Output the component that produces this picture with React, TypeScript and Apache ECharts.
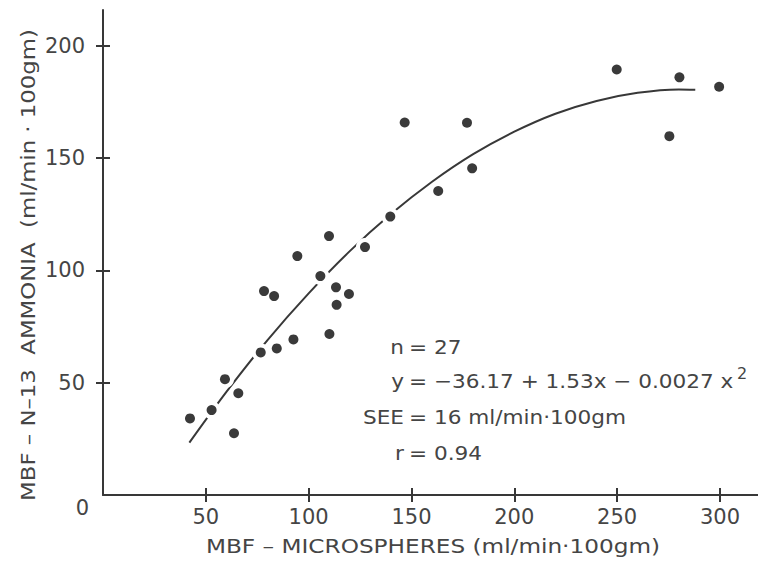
import React, { useEffect, useRef } from 'react';
import * as echarts from 'echarts';

// Data points
const microspheres = [42.3, 52.8, 59.3, 63.7, 65.8, 76.7, 78.3, 83.2, 84.5, 92.6, 94.5, 105.7, 109.9, 110.1, 113.3, 113.6, 119.6, 127.4, 139.7, 146.7, 163, 177, 179.5, 249.8, 275.4, 280.3, 299.6];
const ammonia = [34.1, 37.8, 51.6, 27.5, 45.3, 63.5, 90.8, 88.6, 65.3, 69.3, 106.4, 97.5, 115.3, 71.7, 92.5, 84.7, 89.5, 110.4, 124, 165.9, 135.4, 165.8, 145.5, 189.5, 159.8, 186, 181.8];

// Regression curve
const curveX = [42, 60, 80, 100, 120, 140, 160, 180, 200, 220, 240, 260, 280, 288];
const curveY = [23.3, 45.9, 69.0, 89.8, 108.6, 125.1, 139.5, 151.8, 161.8, 169.8, 175.5, 179.1, 180.6, 180.5];

const xTicks = [50, 100, 150, 200, 250, 300];
const yTicks = [50, 100, 150, 200];

const statLabels = ['n', 'y', 'SEE', 'r'];
const statValues = ['= 27', '= \u221236.17 + 1.53x \u2212 0.0027 x', '= 16 ml/min\u00b7100gm', '= 0.94'];
const superscript = '2';

const xTitle = 'MBF \u2013 MICROSPHERES (ml/min\u00b7100gm)';
const yTitle = 'MBF \u2013 N\u201313  AMMONIA  (ml/min \u00b7 100gm)';

const FONT = '"DejaVu Sans", "Liberation Sans", sans-serif';
const TEXT = '#454545';
const AXIS = '#383838';

export default function App() {
  const ref = useRef<HTMLDivElement>(null);

  useEffect(() => {
    if (!ref.current) return;
    const chart = echarts.init(ref.current, undefined, { renderer: 'svg' });

    const points = microspheres.map((x, i) => [x, ammonia[i]]);
    const curve = curveX.map((x, i) => [x, curveY[i]]);

    const txt = (text: string, x: number, y: number, align: string, size: number, extra: any = {}) => ({
      type: 'text',
      x,
      y,
      z: 10,
      ...extra,
      style: {
        text,
        fill: TEXT,
        fontSize: size,
        fontFamily: FONT,
        align,
        textAlign: align,
        verticalAlign: 'middle',
        textVerticalAlign: 'middle',
      },
    });

    const rowY = [347, 381, 417, 453];
    const graphics: any[] = [];
    statLabels.forEach((l, i) => {
      graphics.push(txt(l, 404, rowY[i], 'right', 20, { scaleX: 1.08 }));
      graphics.push(txt(statValues[i], 409, rowY[i], 'left', 20, { scaleX: 1.08 }));
    });
    graphics.push(txt(superscript, 737, 373, 'left', 16));
    graphics.push(txt('0', 89, 508, 'right', 21));
    graphics.push(txt(xTitle, 433, 546, 'center', 20, { scaleX: 1.16 }));
    graphics.push(txt(yTitle, 28, 265, 'center', 20, { scaleX: 1.14, rotation: Math.PI / 2 }));

    const baseX = { type: 'value', min: 0, max: 318.5, position: 'bottom', splitLine: { show: false } };
    const baseY = { type: 'value', min: 0, max: 216, position: 'left', splitLine: { show: false } };

    chart.setOption({
      animation: false,
      backgroundColor: '#ffffff',
      grid: { left: 103, right: 0, top: 10, bottom: 67, containLabel: false },
      xAxis: [
        {
          ...baseX,
          axisLine: { show: true, lineStyle: { color: AXIS, width: 2 } },
          axisTick: { show: true, inside: false, length: 7, customValues: xTicks, lineStyle: { color: AXIS, width: 2 } },
          axisLabel: { show: true, customValues: xTicks, margin: 11, color: TEXT, fontSize: 21, fontFamily: FONT },
        },
        {
          ...baseX,
          axisLine: { show: false },
          axisTick: { show: true, inside: true, length: 7, customValues: xTicks, lineStyle: { color: AXIS, width: 2 } },
          axisLabel: { show: false },
        },
      ],
      yAxis: [
        {
          ...baseY,
          axisLine: { show: true, lineStyle: { color: AXIS, width: 2 } },
          axisTick: { show: true, inside: false, length: 7, customValues: yTicks, lineStyle: { color: AXIS, width: 2 } },
          axisLabel: { show: true, customValues: yTicks, margin: 18, color: TEXT, fontSize: 21, fontFamily: FONT },
        },
        {
          ...baseY,
          axisLine: { show: false },
          axisTick: { show: true, inside: true, length: 7, customValues: yTicks, lineStyle: { color: AXIS, width: 2 } },
          axisLabel: { show: false },
        },
      ],
      series: [
        {
          type: 'line',
          data: curve,
          smooth: 0.3,
          showSymbol: false,
          symbol: 'none',
          lineStyle: { color: AXIS, width: 2 },
          z: 2,
        },
        {
          type: 'scatter',
          data: points,
          symbol: 'circle',
          symbolSize: 18,
          itemStyle: { color: '#ffffff', opacity: 1 },
          z: 5,
          silent: true,
        },
        {
          type: 'scatter',
          data: points,
          symbol: 'circle',
          symbolSize: 10,
          itemStyle: { color: '#3a3a3a', opacity: 1 },
          z: 6,
        },
      ],
      graphic: graphics,
    });

    return () => chart.dispose();
  }, []);

  return <div ref={ref} style={{ position: 'fixed', left: 0, top: 0, width: 758, height: 562, background: '#fff' }} />;
}
